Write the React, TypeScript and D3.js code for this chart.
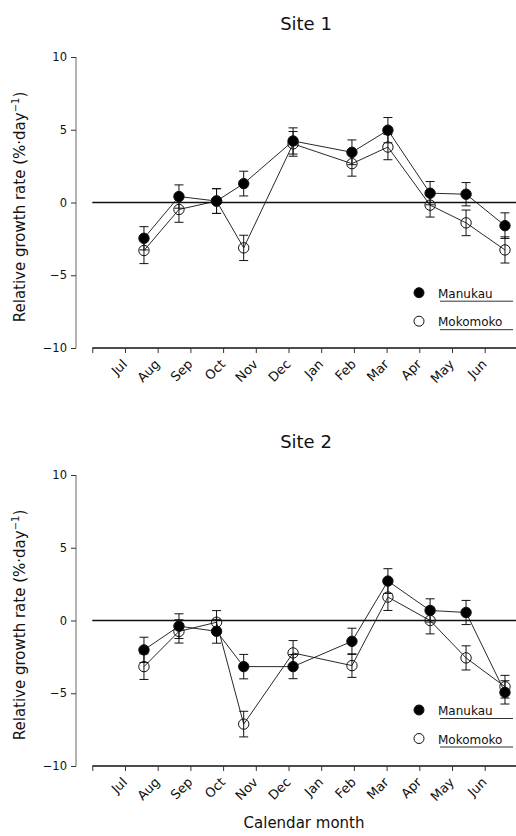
import React, { useRef, useEffect } from "react";
import * as d3 from "d3";

// month labels, tick at start of each month (Jul = 0)
const months = ["Jul", "Aug", "Sep", "Oct", "Nov", "Dec", "Jan", "Feb", "Mar", "Apr", "May", "Jun"];
// sampling dates, in months after 1 Jul
const sampleMonths = [0.58, 1.65, 2.8, 3.63, 5.14, 6.94, 8.04, 9.33, 10.43, 11.62];

const site1Manukau = [-2.46, 0.41, 0.1, 1.3, 4.23, 3.45, 4.97, 0.64, 0.57, -1.59];
const site1ManukauErr = [0.8, 0.8, 0.85, 0.85, 0.9, 0.85, 0.87, 0.8, 0.8, 0.88];
const site1Mokomoko = [-3.3, -0.48, 0.1, -3.12, 4.03, 2.67, 3.81, -0.18, -1.4, -3.26];
const site1MokomokoErr = [0.9, 0.88, 0.85, 0.87, 0.85, 0.86, 0.87, 0.82, 0.88, 0.9];

const site2Manukau = [-2.02, -0.39, -0.74, -3.17, -3.17, -1.43, 2.71, 0.69, 0.55, -4.94];
const site2ManukauErr = [0.87, 0.85, 0.82, 0.84, 0.83, 0.9, 0.85, 0.8, 0.83, 0.8];
const site2Mokomoko = [-3.17, -0.75, -0.12, -7.12, -2.23, -3.1, 1.61, 0.0, -2.57, -4.55];
const site2MokomokoErr = [0.88, 0.8, 0.8, 0.88, 0.85, 0.81, 0.92, 0.92, 0.83, 0.78];

const yTicks = [-10, -5, 0, 5, 10];

const panels = [
	{ title: "Site 1", top: 57, manukau: site1Manukau, manukauErr: site1ManukauErr, mokomoko: site1Mokomoko, mokomokoErr: site1MokomokoErr },
	{ title: "Site 2", top: 475, manukau: site2Manukau, manukauErr: site2ManukauErr, mokomoko: site2Mokomoko, mokomokoErr: site2MokomokoErr },
];

const FONT = "'DejaVu Sans', sans-serif";
const INK = "#111";

export default function App() {
	const ref = useRef<SVGSVGElement>(null);
	const width = 516;
	const height = 836;

	useEffect(() => {
		const svg = d3.select(ref.current);
		svg.selectAll("*").remove();

		const x = d3.scaleLinear().domain([-1, 12]).range([92.3, 517.4]);
		const plotH = 291;
		const axisX = 76;

		panels.forEach((p, pi) => {
			const y = d3.scaleLinear().domain([-10, 10]).range([p.top + plotH, p.top]);
			const g = svg.append("g").attr("font-family", FONT).attr("fill", INK);

			// title
			g.append("text")
				.attr("x", 306)
				.attr("y", p.top - 27)
				.attr("text-anchor", "middle")
				.attr("font-size", 18)
				.text(p.title);

			// y axis
			const yAxis = d3.axisLeft(y).tickValues(yTicks).tickSize(5).tickPadding(4)
				.tickFormat((d) => d3.format("")(d as number).replace("-", "\u2212"));
			const ya = g.append("g").attr("transform", `translate(${axisX},0)`).call(yAxis);
			ya.select(".domain").attr("stroke", "#666").attr("d", `M0,${y(10)}V${y(-10)}`);
			ya.selectAll(".tick line").attr("stroke", "#333");
			ya.selectAll("text").attr("font-size", 11.5).attr("font-family", FONT).attr("fill", INK);

			// y label
			const cy = p.top + 150;
			const lab = g.append("text")
				.attr("transform", `translate(25,${cy}) rotate(-90)`)
				.attr("text-anchor", "middle")
				.attr("font-size", 15);
			lab.append("tspan").text("Relative growth rate (%\u00b7day");
			lab.append("tspan").attr("font-size", 10).attr("dy", -6).text("\u22121");
			lab.append("tspan").attr("dy", 6).text(")");

			// x axis
			const xAxis = d3.axisBottom(x).tickValues(d3.range(-1, 12)).tickSize(5).tickFormat(() => "");
			const xa = g.append("g").attr("transform", `translate(0,${y(-10)})`).call(xAxis);
			xa.select(".domain").attr("stroke", INK).attr("stroke-width", 1.4).attr("d", `M${x(-1)},0H${width}`);
			xa.selectAll(".tick line").attr("stroke", "#333");

			g.selectAll(".mlabel")
				.data(months)
				.enter()
				.append("text")
				.attr("class", "mlabel")
				.attr("text-anchor", "end")
				.attr("font-size", 13)
				.attr("transform", (d, i) => `translate(${x(i) + 3},${y(-10) + 17}) rotate(-45)`)
				.text((d) => d);

			// zero line
			g.append("line")
				.attr("x1", x(-1))
				.attr("x2", width)
				.attr("y1", y(0))
				.attr("y2", y(0))
				.attr("stroke", INK)
				.attr("stroke-width", 1.4);

			const series = [
				{ vals: p.mokomoko, err: p.mokomokoErr, filled: false },
				{ vals: p.manukau, err: p.manukauErr, filled: true },
			];

			const line = d3.line<number>().x((d, i) => x(sampleMonths[i])).y((d) => y(d));

			series.forEach((s) => {
				g.append("path")
					.attr("d", line(s.vals))
					.attr("fill", "none")
					.attr("stroke", INK)
					.attr("stroke-width", 0.9);

				// error bars
				s.vals.forEach((v, i) => {
					const cx = x(sampleMonths[i]);
					const y1 = y(v + s.err[i]);
					const y2 = y(v - s.err[i]);
					g.append("path")
						.attr("d", `M${cx},${y1}V${y2}M${cx - 4.5},${y1}H${cx + 4.5}M${cx - 4.5},${y2}H${cx + 4.5}`)
						.attr("stroke", INK)
						.attr("stroke-width", 1)
						.attr("fill", "none");
				});

				g.selectAll(null)
					.data(s.vals)
					.enter()
					.append("circle")
					.attr("cx", (d, i) => x(sampleMonths[i]))
					.attr("cy", (d) => y(d))
					.attr("r", 5.2)
					.attr("fill", s.filled ? "#000" : "none")
					.attr("stroke", INK)
					.attr("stroke-width", 1);
			});

			// legend
			const ly = p.top + (pi === 0 ? 235.7 : 235);
			const leg = [
				{ name: "Manukau", filled: true, dy: 0 },
				{ name: "Mokomoko", filled: false, dy: 28.5 },
			];
			leg.forEach((l) => {
				g.append("circle")
					.attr("cx", 419)
					.attr("cy", ly + l.dy)
					.attr("r", 5)
					.attr("fill", l.filled ? "#000" : "none")
					.attr("stroke", INK);
				g.append("text")
					.attr("x", 438)
					.attr("y", ly + l.dy + 5)
					.attr("font-size", 12)
					.text(l.name);
				g.append("line")
					.attr("x1", 440)
					.attr("x2", 513)
					.attr("y1", ly + l.dy + 8.5)
					.attr("y2", ly + l.dy + 8.5)
					.attr("stroke", "#333")
					.attr("stroke-width", 1);
			});
		});

		// x label
		svg.append("text")
			.attr("x", 304)
			.attr("y", 828)
			.attr("text-anchor", "middle")
			.attr("font-family", FONT)
			.attr("font-size", 15)
			.attr("fill", INK)
			.text("Calendar month");
	}, []);

	return (
		<svg
			ref={ref}
			width={width}
			height={height}
			style={{ position: "absolute", left: 0, top: 0, background: "#fff" }}
		/>
	);
}
